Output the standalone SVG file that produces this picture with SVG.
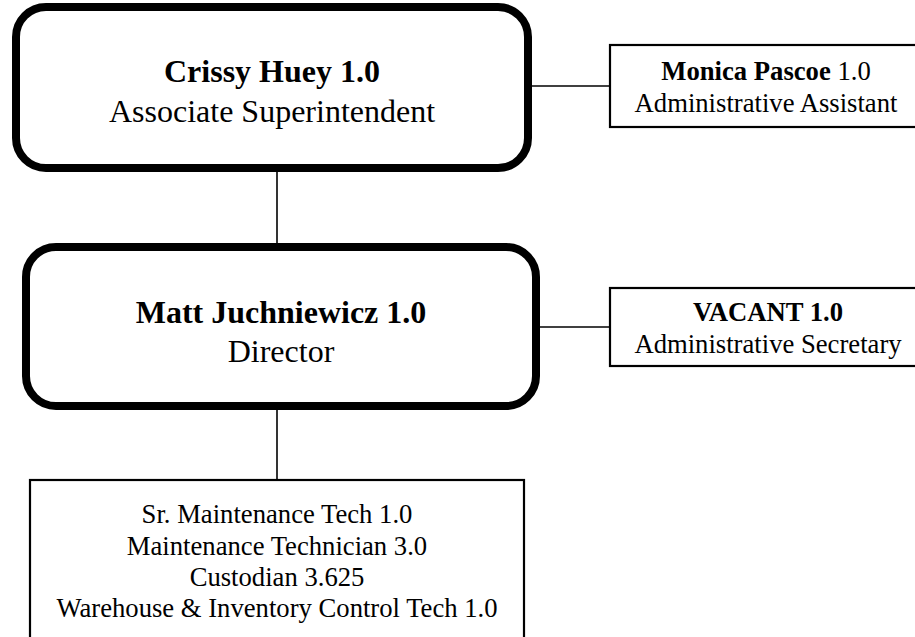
<svg xmlns="http://www.w3.org/2000/svg" width="915" height="637" viewBox="0 0 915 637">
<style>
.big{fill:#fff;stroke:#000;stroke-width:8}
.box{fill:#fff;stroke:#000;stroke-width:2.2}
.conn{stroke:#000;stroke-width:1.6;fill:none}
text{font-family:"Liberation Serif","Times New Roman",serif;fill:#000;text-anchor:middle}
.t1{font-size:32px}
.t2{font-size:26.67px}
.b{font-weight:bold}
</style>
<rect width="915" height="637" fill="#fff"/>
<g id="connectors">
<line class="conn" x1="277" y1="171" x2="277" y2="243"/>
<line class="conn" x1="277" y1="410" x2="277" y2="480"/>
<line class="conn" x1="530" y1="86" x2="610" y2="86"/>
<line class="conn" x1="530" y1="327" x2="610" y2="327"/>
</g>
<g id="crissy">
<rect class="big" x="16" y="7" width="512" height="161" rx="30"/>
<text class="t1 b" x="272" y="82">Crissy Huey 1.0</text>
<text class="t1" x="272" y="122">Associate Superintendent</text>
</g>
<g id="monica">
<rect class="box" x="610" y="45" width="320" height="82"/>
<text class="t2" x="766" y="80"><tspan class="b">Monica Pascoe</tspan> 1.0</text>
<text class="t2" x="766" y="112">Administrative Assistant</text>
</g>
<g id="matt">
<rect class="big" x="26" y="247" width="510" height="159" rx="30"/>
<text class="t1 b" x="281" y="323">Matt Juchniewicz 1.0</text>
<text class="t1" x="281" y="362">Director</text>
</g>
<g id="vacant">
<rect class="box" x="610" y="288" width="316" height="78"/>
<text class="t2 b" x="768" y="321">VACANT 1.0</text>
<text class="t2" x="768" y="353">Administrative Secretary</text>
</g>
<g id="staff">
<rect class="box" x="30" y="480" width="494" height="170"/>
<text class="t2" x="277" y="523">Sr. Maintenance Tech 1.0</text>
<text class="t2" x="277" y="555">Maintenance Technician 3.0</text>
<text class="t2" x="277" y="586">Custodian 3.625</text>
<text class="t2" x="277" y="617">Warehouse &amp; Inventory Control Tech 1.0</text>
</g>
</svg>
